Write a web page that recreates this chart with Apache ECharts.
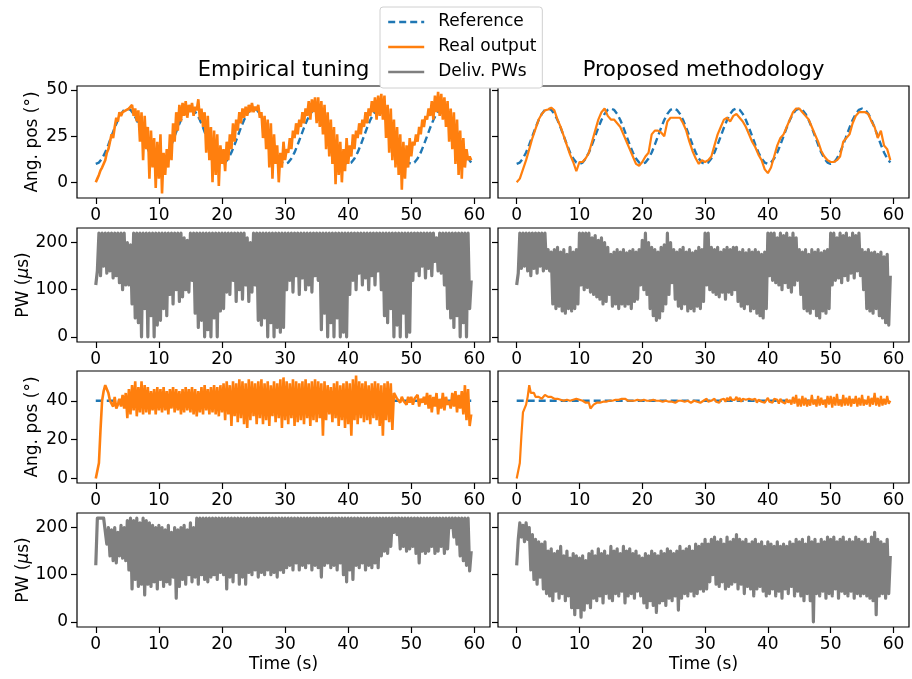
<!DOCTYPE html>
<html>
<head>
<meta charset="utf-8">
<title>Empirical tuning vs proposed methodology</title>
<script src="https://cdn.jsdelivr.net/npm/echarts@6.0.0/dist/echarts.min.js"></script>
<style>
  html, body { margin: 0; padding: 0; background: #fff; }
  #chart { width: 912px; height: 679px; }
</style>
</head>
<body>
<div id="chart"></div>
<script>
// sampling step of the logged signals (s)
const DT = 0.25;
const DT_SLOW = 0.5;

// sine reference (deg), every 0.5 s
const refSine = [
  10, 10.7, 12.9, 16.2, 20.4, 25, 29.6, 33.8, 37.1, 39.3, 40, 39.3, 37.1, 33.8, 29.6, 25, 20.4, 16.2, 12.9, 10.7,
  10, 10.7, 12.9, 16.2, 20.4, 25, 29.6, 33.8, 37.1, 39.3, 40, 39.3, 37.1, 33.8, 29.6, 25, 20.4, 16.2, 12.9, 10.7,
  10, 10.7, 12.9, 16.2, 20.4, 25, 29.6, 33.8, 37.1, 39.3, 40, 39.3, 37.1, 33.8, 29.6, 25, 20.4, 16.2, 12.9, 10.7,
  10, 10.7, 12.9, 16.2, 20.4, 25, 29.6, 33.8, 37.1, 39.3, 40, 39.3, 37.1, 33.8, 29.6, 25, 20.4, 16.2, 12.9, 10.7,
  10, 10.7, 12.9, 16.2, 20.4, 25, 29.6, 33.8, 37.1, 39.3, 40, 39.3, 37.1, 33.8, 29.6, 25, 20.4, 16.2, 12.9, 10.7,
  10, 10.7, 12.9, 16.2, 20.4, 25, 29.6, 33.8, 37.1, 39.3, 40, 39.3, 37.1, 33.8, 29.6, 25, 20.4, 16.2, 12.9, 10.7
];
// step reference (deg)
const refStepT = [0, 59.5];
const refStep = [40, 40];

// empirical tuning, sine test: angle (every 0.25 s)
const angEmpSine = [
  0, 2, 4, 6.5, 8, 8.5, 12, 16, 18, 22, 26, 24, 30, 35, 33, 38, 36, 38, 37, 39,
  38, 40, 41, 42, 36, 40, 33, 39, 22, 38, 12, 36, 18, 30, 2, 28, 8, 24, -3, 22,
  2, 26, -6, 16, 4, 18, 8, 26, 12, 32, 22, 38, 28, 42, 33, 43, 36, 44, 35, 42,
  38, 43, 36, 41, 39, 45, 34, 40, 30, 38, 16, 36, 12, 30, 0, 28, 4, 26, -2, 20,
  10, 18, 6, 22, 12, 26, 18, 32, 22, 34, 28, 38, 32, 40, 35, 41, 36, 42, 38, 43,
  38, 41, 39, 42, 35, 38, 24, 36, 18, 34, 8, 32, 2, 26, 10, 20, 0, 16, 8, 22,
  12, 18, 16, 24, 18, 28, 24, 32, 26, 34, 30, 38, 32, 40, 36, 44, 34, 45, 38, 46,
  32, 46, 30, 44, 26, 42, 18, 38, 14, 34, 10, 30, -1, 26, 4, 22, 0, 18, 6, 24,
  10, 20, 14, 26, 18, 28, 24, 32, 26, 34, 30, 38, 32, 40, 36, 44, 38, 46, 34, 47,
  36, 48, 34, 47, 24, 42, 16, 40, 12, 34, 8, 30, 4, 26, -4, 22, 2, 20, 8, 24,
  14, 22, 20, 26, 22, 30, 26, 34, 30, 36, 34, 40, 36, 44, 34, 47, 38, 49, 36, 48,
  34, 46, 30, 44, 22, 40, 18, 38, 10, 34, 4, 28, 2, 24, 8, 18, 12, 14, 12
];
// proposed methodology, sine test: angle (every 0.5 s)
const angPropSine = [
  0, 2, 7, 12, 18, 24, 29, 34, 37, 39,
  39.5, 40.5, 39, 34, 30, 25, 20, 15, 11, 6,
  11, 11, 13, 16, 22, 28, 34, 38, 40, 36,
  34, 34, 32, 30, 26, 22, 18, 14, 10, 9,
  11, 14, 16, 26, 28, 28, 27, 25, 33, 35,
  35, 35, 35, 32, 28, 22, 17, 13, 10, 12,
  11, 12, 14, 20, 26, 30, 34, 35, 33, 36,
  37, 35, 33, 30, 26, 22, 19, 15, 12, 7,
  5, 8, 14, 20, 24, 26, 30, 34, 38, 40,
  40, 38, 36, 34, 30, 26, 22, 17, 14, 12,
  11, 11, 12, 14, 22, 24, 26, 32, 36, 38,
  38, 38, 37, 33, 30, 24, 28, 20, 18, 12
];
// empirical tuning, sine test: pulse width (us)
const pwEmpSine = [
  110, 140, 220, 130, 220, 150, 220, 135, 220, 140, 220, 125, 220, 130, 220, 115, 220, 100, 220, 110,
  200, 110, 195, 70, 220, 40, 220, 30, 220, 0, 220, 60, 220, 0, 220, 45, 220, 0, 220, 25,
  220, 35, 220, 60, 220, 45, 220, 90, 220, 70, 220, 100, 220, 75, 220, 85, 210, 100, 205, 95,
  220, 120, 220, 50, 220, 20, 220, 35, 220, 0, 220, 15, 220, 0, 220, 40, 220, 0, 220, 55,
  220, 60, 220, 95, 220, 90, 220, 120, 220, 75, 220, 100, 220, 80, 220, 110, 210, 75, 200, 95,
  220, 110, 220, 35, 220, 25, 220, 40, 220, 0, 220, 30, 220, 0, 220, 20, 220, 10, 220, 20,
  220, 100, 220, 120, 220, 95, 220, 130, 220, 90, 220, 125, 220, 100, 220, 110, 220, 95, 220, 130,
  220, 120, 220, 15, 220, 50, 220, 0, 220, 30, 220, 0, 220, 40, 220, 0, 220, 10, 220, 0,
  220, 90, 220, 120, 220, 100, 220, 135, 220, 110, 220, 125, 220, 100, 220, 130, 220, 110, 220, 140,
  220, 100, 220, 45, 220, 30, 220, 60, 220, 0, 220, 25, 220, 0, 220, 50, 220, 0, 220, 10,
  220, 120, 220, 140, 220, 130, 220, 150, 220, 125, 220, 145, 220, 130, 220, 160, 210, 140, 220, 135,
  220, 110, 220, 60, 220, 40, 220, 20, 220, 45, 220, 0, 220, 30, 220, 0, 220, 60, 120
];
// proposed methodology, sine test: pulse width (us)
const pwPropSine = [
  110, 135, 220, 145, 220, 150, 220, 140, 220, 130, 220, 145, 220, 135, 220, 150, 220, 140, 220, 145,
  185, 140, 180, 70, 185, 60, 190, 65, 180, 55, 185, 50, 175, 60, 190, 55, 180, 60, 185, 70,
  220, 110, 220, 100, 220, 105, 220, 95, 210, 90, 215, 85, 205, 80, 210, 70, 200, 75, 190, 90,
  175, 65, 180, 70, 185, 60, 180, 70, 185, 65, 178, 70, 182, 60, 185, 75, 180, 80, 185, 110,
  205, 100, 220, 90, 200, 60, 190, 45, 185, 35, 180, 40, 190, 55, 195, 70, 220, 90, 200, 115,
  185, 80, 180, 65, 185, 60, 190, 70, 180, 55, 185, 60, 178, 55, 182, 65, 190, 60, 185, 75,
  220, 110, 220, 100, 190, 95, 185, 90, 190, 85, 180, 95, 185, 80, 190, 95, 185, 90, 190, 100,
  190, 75, 180, 65, 185, 60, 178, 70, 185, 55, 180, 60, 185, 50, 180, 45, 175, 40, 180, 60,
  220, 130, 220, 120, 220, 115, 210, 110, 220, 100, 215, 115, 220, 105, 210, 95, 220, 110, 210, 120,
  185, 90, 180, 60, 185, 55, 175, 50, 185, 60, 180, 45, 185, 40, 178, 55, 182, 50, 185, 60,
  220, 110, 220, 120, 210, 125, 220, 115, 215, 130, 220, 120, 210, 135, 220, 125, 215, 140, 220, 130,
  185, 100, 180, 60, 185, 55, 178, 50, 180, 60, 175, 45, 180, 40, 170, 30, 175, 25, 130
];
// empirical tuning, step test: angle
const angEmpStep = [
  0, 1, 8, 25, 40, 45, 48, 47, 44, 40, 39, 37, 42, 36, 38, 41, 37, 43, 36, 44,
  31, 46, 33, 48, 35, 50, 32, 47, 34, 50, 33, 48, 34, 47, 33, 45, 35, 46, 33, 47,
  35, 46, 34, 47, 35, 45, 33, 46, 36, 47, 34, 46, 35, 45, 33, 46, 34, 47, 35, 46,
  34, 47, 33, 46, 32, 45, 34, 47, 33, 48, 35, 46, 33, 47, 34, 48, 33, 47, 32, 48,
  34, 49, 30, 50, 33, 48, 27, 50, 32, 49, 29, 51, 31, 50, 28, 49, 26, 51, 30, 50,
  32, 49, 28, 50, 31, 51, 28, 49, 30, 50, 27, 48, 32, 50, 29, 49, 31, 51, 26, 52,
  30, 50, 28, 49, 31, 51, 27, 50, 29, 49, 30, 50, 28, 51, 31, 49, 27, 50, 30, 51,
  29, 50, 31, 49, 22, 50, 30, 48, 33, 47, 29, 49, 31, 50, 27, 48, 30, 49, 26, 50,
  28, 49, 22, 51, 30, 53, 28, 50, 31, 49, 29, 50, 30, 48, 28, 49, 31, 50, 30, 49,
  27, 48, 22, 49, 30, 50, 29, 49, 25, 44, 43, 41, 42, 39, 42, 40, 41, 38, 42, 39,
  42, 38, 41, 40, 43, 37, 41, 39, 42, 38, 44, 36, 43, 34, 42, 37, 44, 33, 41, 36,
  44, 35, 42, 38, 40, 36, 44, 37, 45, 34, 43, 36, 45, 33, 48, 30, 46, 27, 33
];
// proposed methodology, step test: angle
const angPropStep = [
  0, 1, 8, 22, 34, 35, 38, 42, 48, 44, 43, 44, 42, 43, 42, 43, 41, 42, 43, 42,
  42, 41, 42, 41, 41, 40.5, 41, 41, 40.5, 41, 40, 41, 40.5, 41, 40, 41, 40.5, 40, 41, 40,
  40.5, 40, 40, 39.5, 39, 38.5, 39, 36, 37, 38, 38.5, 39, 38.5, 39, 39, 39.5, 39, 39.5, 39.5, 40,
  39.5, 40, 40, 40.5, 40, 40.5, 40.5, 41, 40.5, 41, 40.5, 40, 40.5, 40, 40.5, 40, 40, 40.5, 40, 40,
  40, 40.5, 40, 40, 40.5, 40, 40, 40.5, 40.5, 40, 40.5, 40, 40, 39.5, 40, 40, 39.5, 39.5, 39, 39.5,
  39.5, 39, 39.5, 40, 39.5, 40, 40, 39.5, 39.5, 40, 39.5, 39, 39.5, 40, 40.5, 39.5, 40, 39, 39.5, 40,
  39, 41, 39.5, 38.5, 40, 39.5, 41, 39.5, 40, 39, 40.5, 40, 41, 39.5, 41.5, 40, 42, 40.5, 41, 40.5,
  42, 40, 41.5, 39.5, 41, 40, 40.5, 39.5, 41, 40, 40.5, 39.5, 41, 39, 40.5, 40, 39.5, 40.5, 39, 40,
  41.5, 39.5, 40.5, 39, 41, 40, 40.5, 38.5, 41, 39.5, 40.5, 38.5, 41, 39, 40.5, 38, 42, 38.5, 43, 37,
  41, 37, 42.5, 37.5, 41.5, 37, 40.5, 37.5, 43, 38, 40.5, 37, 42.5, 37.5, 41.5, 38, 40.5, 36.5, 42.5, 38,
  42.5, 36.5, 42, 37.5, 43.5, 37.5, 40.5, 37, 43, 37.5, 41.5, 37.5, 42.5, 37, 41, 38.5, 42.5, 37, 41.5, 37.5,
  43, 37.5, 40.5, 38, 42.5, 37, 41.5, 38, 44, 37.5, 41.5, 37, 42.5, 37.5, 41, 38, 42.5, 38.5, 40
];
// empirical tuning, step test: pulse width
const pwEmpStep = [
  120, 220, 220, 220, 220, 220, 220, 165, 200, 140, 195, 130, 200, 125, 190, 140, 205, 135, 200, 130,
  215, 110, 220, 70, 215, 90, 220, 75, 210, 80, 220, 57, 215, 80, 210, 75, 205, 85, 200, 70,
  205, 90, 200, 75, 195, 85, 205, 80, 190, 95, 200, 50, 195, 75, 200, 90, 205, 80, 195, 100,
  210, 85, 200, 95, 220, 80, 220, 100, 220, 90, 220, 85, 220, 95, 220, 100, 220, 90, 220, 105,
  220, 100, 220, 70, 220, 95, 220, 85, 220, 105, 220, 80, 220, 95, 220, 80, 220, 105, 220, 100,
  220, 110, 220, 95, 220, 105, 220, 100, 220, 110, 220, 100, 220, 105, 220, 95, 220, 110, 220, 105,
  220, 115, 220, 120, 220, 110, 220, 125, 220, 110, 220, 120, 220, 115, 220, 125, 220, 110, 220, 120,
  220, 115, 220, 95, 220, 120, 220, 125, 220, 115, 220, 120, 220, 110, 220, 125, 220, 100, 220, 85,
  220, 110, 220, 90, 220, 120, 220, 115, 220, 125, 220, 110, 220, 120, 220, 115, 220, 125, 220, 115,
  220, 140, 220, 150, 220, 145, 220, 160, 220, 190, 220, 185, 220, 155, 220, 160, 220, 150, 220, 155,
  220, 160, 220, 145, 220, 125, 220, 150, 220, 145, 220, 150, 220, 160, 220, 145, 220, 150, 220, 160,
  220, 145, 220, 155, 220, 200, 220, 180, 220, 165, 220, 140, 220, 130, 220, 120, 220, 108, 150
];
// proposed methodology, step test: pulse width
const pwPropStep = [
  120, 175, 210, 180, 205, 170, 210, 175, 200, 110, 185, 90, 175, 80, 170, 95, 165, 70, 170, 60,
  150, 55, 155, 45, 145, 65, 150, 50, 160, 60, 140, 45, 150, 55, 135, 30, 145, 15, 140, 30,
  135, 10, 140, 25, 130, 40, 145, 30, 150, 50, 140, 45, 155, 55, 145, 40, 150, 60, 140, 50,
  160, 45, 150, 60, 155, 55, 145, 65, 160, 40, 150, 55, 155, 60, 145, 50, 150, 65, 140, 55,
  135, 40, 145, 30, 140, 45, 150, 35, 145, 20, 140, 40, 150, 45, 145, 35, 155, 50, 150, 45,
  145, 55, 150, 25, 160, 50, 150, 60, 155, 55, 160, 65, 150, 55, 165, 60, 160, 70, 165, 65,
  175, 70, 165, 85, 175, 100, 180, 80, 170, 75, 175, 85, 165, 70, 180, 75, 170, 80, 175, 85,
  185, 70, 175, 80, 170, 60, 175, 75, 165, 70, 170, 55, 175, 70, 165, 75, 170, 65, 160, 55,
  170, 60, 165, 70, 160, 55, 170, 65, 160, 50, 165, 70, 160, 60, 170, 75, 165, 55, 175, 65,
  170, 55, 175, 45, 165, 60, 180, 45, 170, 0, 175, 60, 165, 55, 175, 65, 170, 50, 180, 60,
  175, 55, 180, 70, 170, 50, 175, 65, 180, 60, 170, 55, 175, 65, 170, 50, 180, 60, 175, 55,
  170, 60, 175, 55, 165, 50, 180, 45, 190, 15, 175, 55, 170, 60, 165, 50, 175, 60, 140
];

const xTicks = [0, 10, 20, 30, 40, 50, 60];
const angSineTicks = [0, 25, 50];
const angStepTicks = [0, 20, 40];
const pwTicks = [0, 100, 200];

const FONT = 'DejaVu Sans';
const FS = 17;
const BLUE = '#1f77b4', ORANGE = '#ff7f0e', GRAY = '#7f7f7f';

function pairs (vals, step) {
  return vals.map(function (v, i) { return [i * step, v] })
}

// 4 rows x 2 columns, same layout as the original subplots
const cols = [{ left: 77, width: 413 }, { left: 498, width: 411 }];
const rows = [
  { top: 86, height: 112, min: -8.5, max: 52.2, ticks: angSineTicks, name: 'Ang. pos (°)', gap: 36 },
  { top: 228, height: 114, min: -11, max: 231, ticks: pwTicks, name: '{a|PW (}{m|μ}{a|s)}', gap: 40 },
  { top: 371, height: 112, min: -2.3, max: 55.3, ticks: angStepTicks, name: 'Ang. pos (°)', gap: 36 },
  { top: 513, height: 114, min: -11, max: 231, ticks: pwTicks, name: '{a|PW (}{m|μ}{a|s)}', gap: 40 }
];

let grid = [], xAxis = [], yAxis = [];
rows.forEach(function (r, ri) {
  cols.forEach(function (c, ci) {
    grid.push({
      left: c.left, top: r.top, width: c.width, height: r.height,
      show: true, borderColor: '#000', borderWidth: 1.2, backgroundColor: 'transparent'
    });
    const gi = grid.length - 1;
    xAxis.push({
      type: 'value', gridIndex: gi, min: -2.975, max: 62.475,
      axisLine: { show: false, onZero: false },
      splitLine: { show: false },
      axisTick: { show: true, length: 6, customValues: xTicks, lineStyle: { color: '#000', width: 1.2 } },
      axisLabel: { customValues: xTicks, fontSize: FS, color: '#000', fontFamily: FONT, margin: 9 },
      name: ri === 3 ? 'Time (s)' : '',
      nameLocation: 'middle', nameGap: 29,
      nameTextStyle: { fontSize: FS, color: '#000', fontFamily: FONT }
    });
    yAxis.push({
      type: 'value', gridIndex: gi, min: r.min, max: r.max,
      axisLine: { show: false, onZero: false },
      splitLine: { show: false },
      axisTick: { show: true, length: 6, customValues: r.ticks, lineStyle: { color: '#000', width: 1.2 } },
      axisLabel: { show: ci === 0, customValues: r.ticks, fontSize: FS, color: '#000', fontFamily: FONT, margin: 9 },
      name: ci === 0 ? r.name : '',
      nameLocation: 'middle', nameGap: r.gap,
      nameTextStyle: {
        fontSize: FS, color: '#000', fontFamily: FONT,
        rich: {
          a: { fontSize: FS, color: '#000', fontFamily: FONT },
          m: { fontSize: FS, color: '#000', fontFamily: FONT, fontStyle: 'italic' }
        }
      }
    });
  });
});

function ref (gi, data) {
  return {
    name: 'Reference', type: 'line', xAxisIndex: gi, yAxisIndex: gi, data: data,
    symbol: 'none', lineStyle: { color: BLUE, width: 2.4, type: [7, 4] }, itemStyle: { color: BLUE }
  }
}
function real (gi, data, w) {
  return {
    name: 'Real output', type: 'line', xAxisIndex: gi, yAxisIndex: gi, data: data,
    symbol: 'none', lineStyle: { color: ORANGE, width: w || 2.2 }, itemStyle: { color: ORANGE }
  }
}
function pw (gi, data) {
  return {
    name: 'Deliv. PWs', type: 'line', xAxisIndex: gi, yAxisIndex: gi, data: data,
    symbol: 'none', lineStyle: { color: GRAY, width: 3.2, join: 'round' }, itemStyle: { color: GRAY }
  }
}

const refStepData = refStepT.map(function (t, i) { return [t, refStep[i]] });

const series = [
  ref(0, pairs(refSine, DT_SLOW)), real(0, pairs(angEmpSine, DT), 2.6),
  ref(1, pairs(refSine, DT_SLOW)), real(1, pairs(angPropSine, DT_SLOW)),
  pw(2, pairs(pwEmpSine, DT)), pw(3, pairs(pwPropSine, DT)),
  ref(4, refStepData), real(4, pairs(angEmpStep, DT), 2.6),
  ref(5, refStepData), real(5, pairs(angPropStep, DT)),
  pw(6, pairs(pwEmpStep, DT)), pw(7, pairs(pwPropStep, DT))
];

const chart = echarts.init(document.getElementById('chart'));
chart.setOption({
  animation: false,
  backgroundColor: '#fff',
  grid: grid,
  xAxis: xAxis,
  yAxis: yAxis,
  graphic: [
    { type: 'text', x: 283.5, y: 71, z: 5,
      style: { text: 'Empirical tuning', font: '21px "DejaVu Sans"', fill: '#000', textAlign: 'center', textVerticalAlign: 'middle' } },
    { type: 'text', x: 703.5, y: 71, z: 5,
      style: { text: 'Proposed methodology', font: '21px "DejaVu Sans"', fill: '#000', textAlign: 'center', textVerticalAlign: 'middle' } }
  ],
  legend: {
    orient: 'vertical', left: 380, top: 7, z: 10,
    data: ['Reference', 'Real output', 'Deliv. PWs'],
    itemWidth: 36, itemHeight: 18, itemGap: 7,
    padding: [6, 6, 7, 7],
    backgroundColor: '#fff', borderColor: '#d0d0d0', borderWidth: 1, borderRadius: 3,
    itemStyle: { opacity: 0 },
    lineStyle: { width: 2.4 },
    textStyle: { fontSize: FS, lineHeight: 18, color: '#000', fontFamily: FONT, padding: [0, 0, 0, 9] }
  },
  series: series
});
</script>
</body>
</html>
